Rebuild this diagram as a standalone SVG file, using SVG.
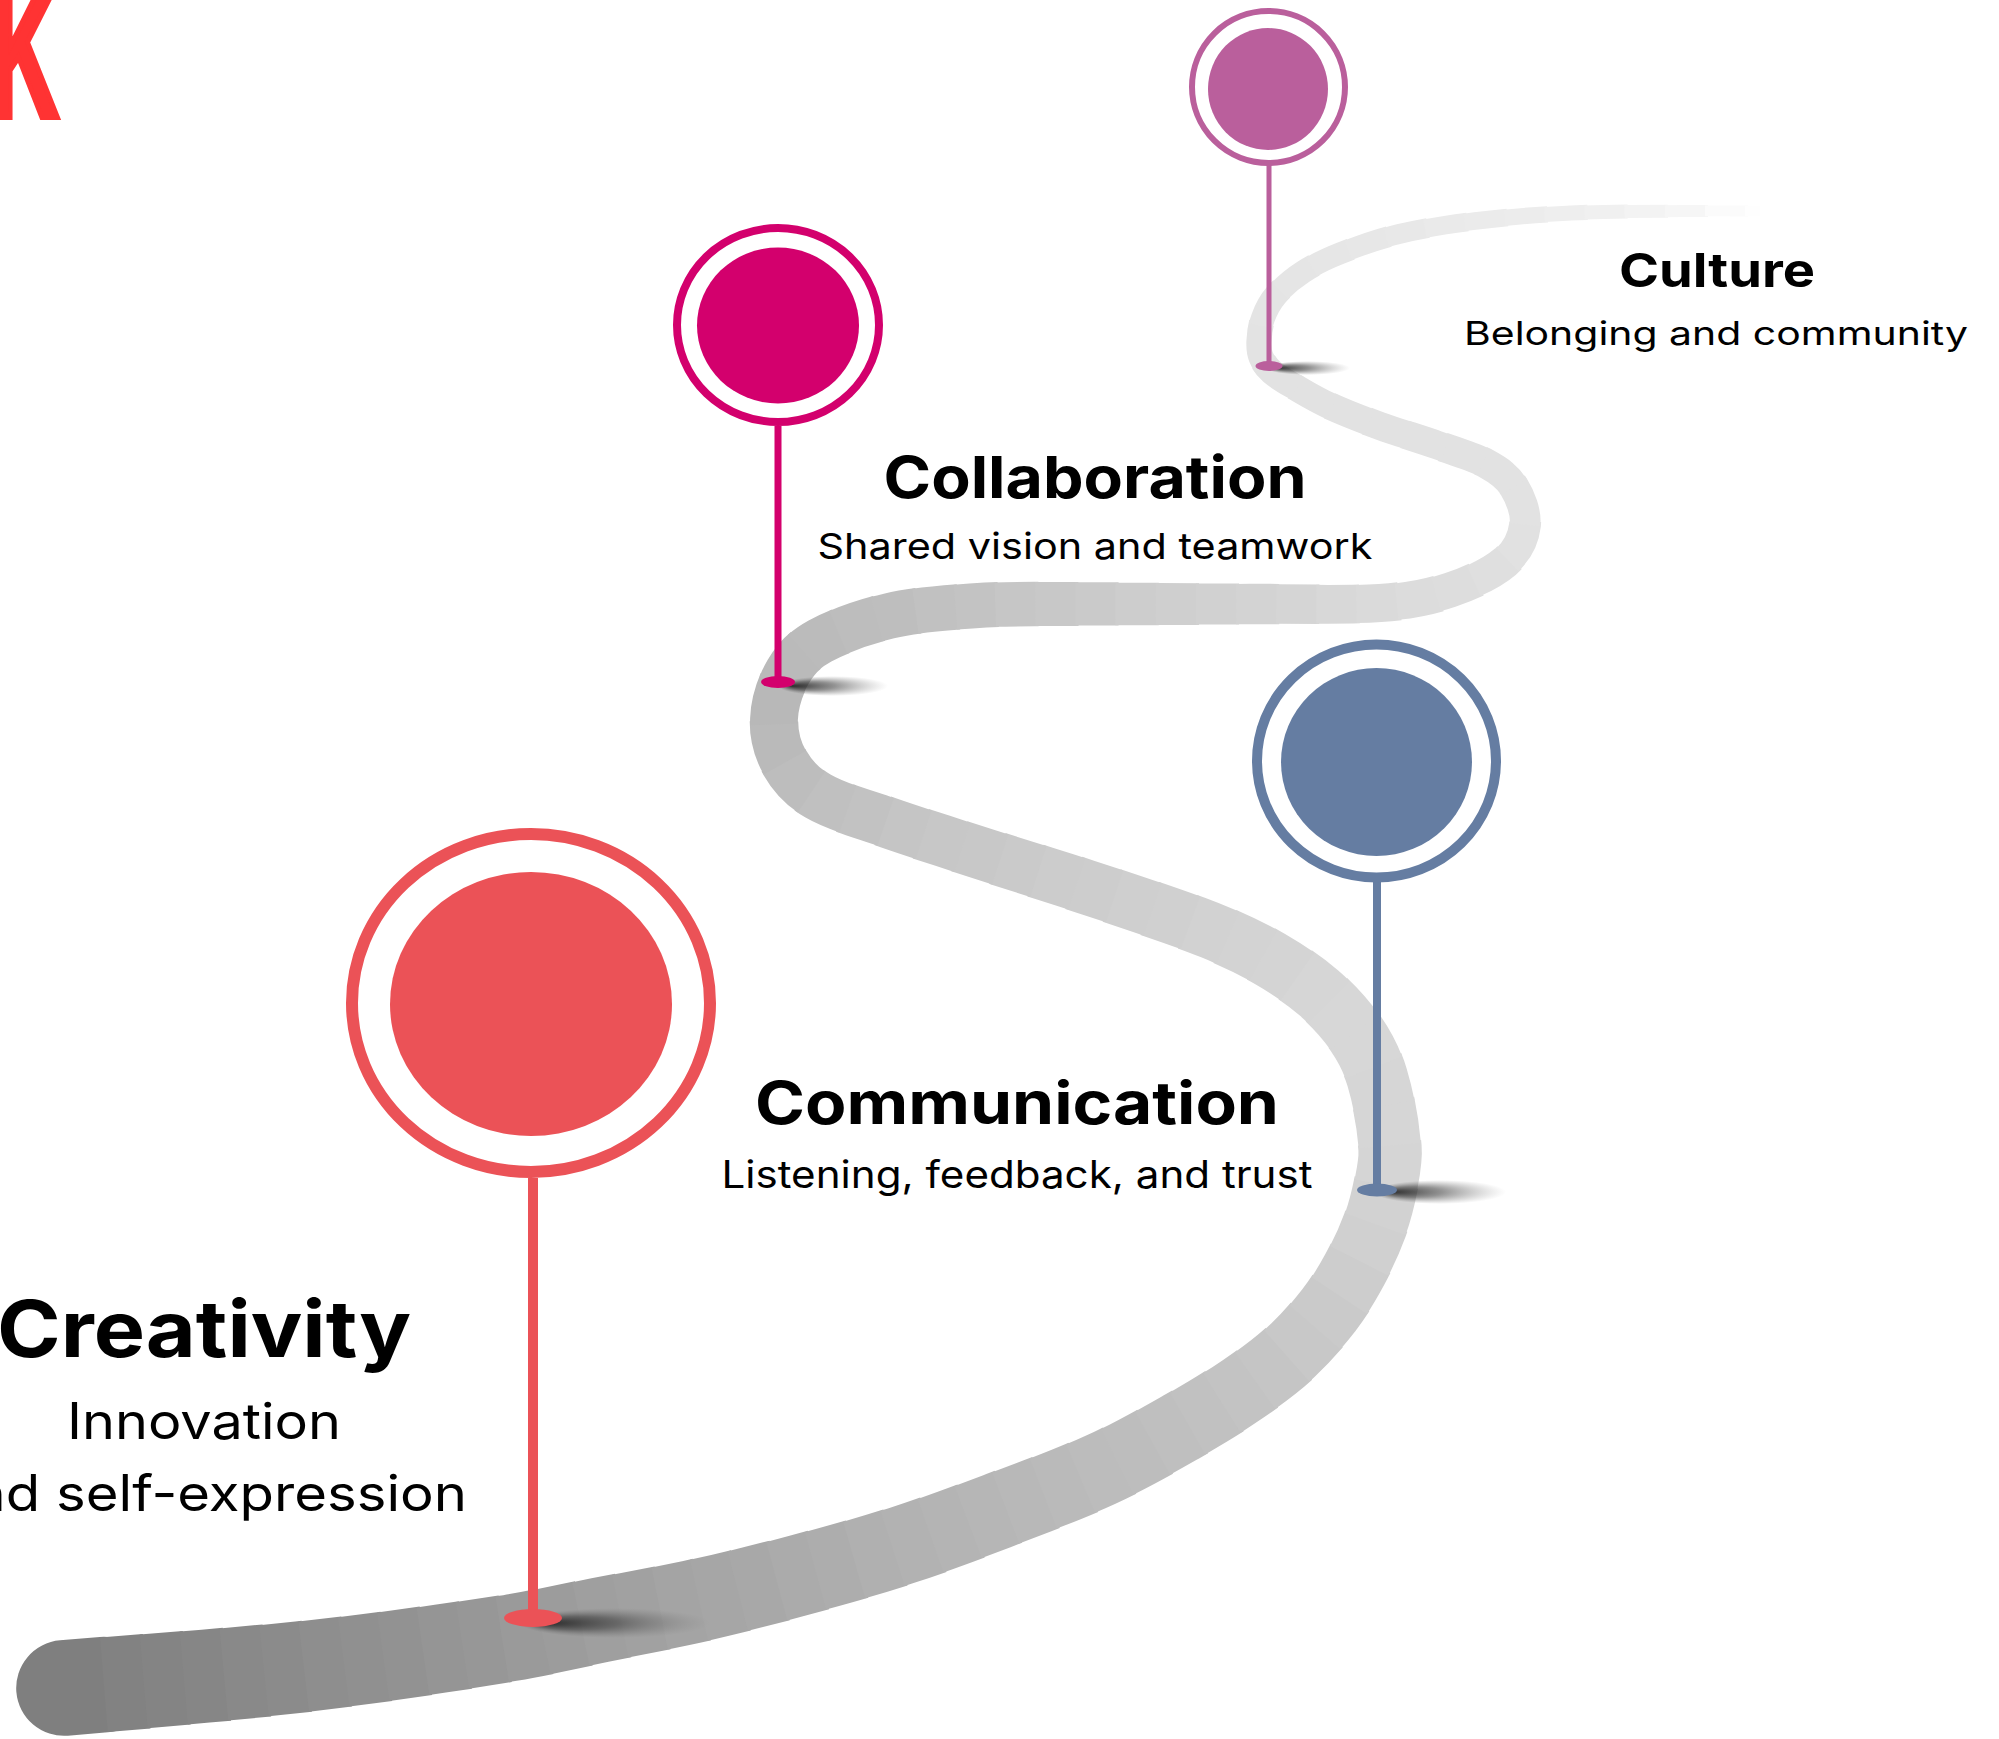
<svg xmlns="http://www.w3.org/2000/svg" xmlns:xlink="http://www.w3.org/1999/xlink" width="1999" height="1739" viewBox="0 0 1999 1739">
<style>
.seg{fill:none;stroke-linecap:butt;stroke-dasharray:43 99999;}
.seg0{fill:none;stroke-linecap:round;stroke-dasharray:40 99999;}
.h{font-family:Inter,"Liberation Sans",sans-serif;font-weight:700;fill:#000;text-anchor:middle;}
.s{font-family:Inter,"Liberation Sans",sans-serif;font-weight:400;fill:#000;text-anchor:middle;}
.ring{fill:none;}
</style>
<defs>
<path id="r" pathLength="4055" d="M64,1688 C103.3,1684.5 225.7,1675.3 300,1667 C374.3,1658.7 440.2,1649 510,1638 C540.3,1633.2 568.3,1626.3 600,1620 C631.7,1613.7 666.7,1607.5 700,1600 C733.3,1592.5 766.7,1584 800,1575 C833.3,1566 866.7,1556.8 900,1546 C933.3,1535.2 966.7,1522.7 1000,1510 C1033.3,1497.3 1069.5,1484 1100,1470 C1130.5,1456 1159.2,1439.5 1183,1426 C1206.8,1412.5 1225,1401.3 1243,1389 C1261,1376.7 1276.7,1365.2 1291,1352 C1305.3,1338.8 1318.3,1323.8 1329,1310 C1339.7,1296.2 1347.3,1283.2 1355,1269 C1362.7,1254.8 1369.8,1239.2 1375,1225 C1380.2,1210.8 1383.3,1197.7 1386,1184 C1388.3,1172.2 1391,1160 1390,1148 C1388,1124.1 1383.9,1100 1377,1077 C1372.4,1061.7 1365.1,1047.2 1356,1034 C1346.3,1020 1333.3,1005.5 1319,993 C1304.7,980.5 1287.8,969.3 1270,959 C1252.2,948.7 1235.2,940.5 1212,931 C1188.8,921.5 1155.5,910.5 1131,902 C1106.5,893.5 1087,887.2 1065,880 C1043,872.8 1028.3,868.5 999,859 C969.7,849.5 919.2,833.5 889,823 C858.8,812.5 835.3,806 818,796 C800.7,786 792.3,775.8 785,763 C777.7,750.2 773.5,734.2 774,719 C774.5,703.8 780.3,685 788,672 C795.7,659 803.2,650.3 820,641 C836.8,631.7 863.8,621.8 889,616 C914.2,610.2 943.5,608 971,606 C998.5,604 1007.5,604.3 1054,604 C1100.5,603.7 1195.7,604.2 1250,604 C1304.3,603.8 1346.7,605.3 1380,603 C1413.3,600.7 1429.2,596.8 1450,590 C1470.8,583.2 1492.5,572.8 1505,562 C1517.5,551.2 1523.5,537.5 1525,525 C1526.5,512.5 1520.3,497.2 1514,487 C1507.7,476.8 1499.8,471 1487,464 C1474.2,457 1454.8,451.3 1437,445 C1419.2,438.7 1397.8,432.5 1380,426 C1362.2,419.5 1344.2,412.5 1330,406 C1315.8,399.5 1304.7,392.7 1295,387 C1285.3,381.3 1277.7,377 1272,372 C1266.3,367 1263.2,362.2 1261,357 C1258.8,351.8 1258.7,347.5 1259,341 C1259.3,334.5 1260.2,325.7 1263,318 C1265.8,310.3 1269.3,302.7 1276,295 C1282.7,287.3 1292.2,279 1303,272 C1313.8,265 1325,259.3 1341,253 C1357,246.7 1376.7,239.3 1399,234 C1421.3,228.7 1446.3,224.5 1475,221 C1503.7,217.5 1535.8,214.7 1571,213 C1606.2,211.3 1654.5,211.3 1686,211 C1717.5,210.7 1747.7,211 1760,211"/>
<radialGradient id="shadow" cx="0.5" cy="0.5" r="0.5" fx="0.12" fy="0.5">
<stop offset="0" stop-color="#1e1e1e" stop-opacity="0.9"/>
<stop offset="0.45" stop-color="#3a3a3a" stop-opacity="0.55"/>
<stop offset="1" stop-color="#777" stop-opacity="0"/>
</radialGradient>
</defs>
<rect width="1999" height="1739" fill="#ffffff"/>

<g id="title-fragment">
<text transform="scale(0.5,1)" x="-17.8" y="116" font-family="'Liberation Sans',Arial,sans-serif" font-weight="700" font-size="185" fill="#ff3333" stroke="#ff3333" stroke-width="8" stroke-linejoin="miter">K</text>
</g>

<g id="connectors">
<use href="#r" class="seg0" stroke="#7f7f7f" stroke-width="95.6" stroke-dashoffset="0"/>
<use href="#r" class="seg" stroke="#828282" stroke-width="94.8" stroke-dashoffset="-40"/>
<use href="#r" class="seg" stroke="#848484" stroke-width="94" stroke-dashoffset="-80"/>
<use href="#r" class="seg" stroke="#868686" stroke-width="93.2" stroke-dashoffset="-120"/>
<use href="#r" class="seg" stroke="#898989" stroke-width="92.4" stroke-dashoffset="-160"/>
<use href="#r" class="seg" stroke="#8b8b8b" stroke-width="91.6" stroke-dashoffset="-200"/>
<use href="#r" class="seg" stroke="#8e8e8e" stroke-width="90.8" stroke-dashoffset="-240"/>
<use href="#r" class="seg" stroke="#909090" stroke-width="90" stroke-dashoffset="-280"/>
<use href="#r" class="seg" stroke="#929292" stroke-width="89.2" stroke-dashoffset="-320"/>
<use href="#r" class="seg" stroke="#959595" stroke-width="88.4" stroke-dashoffset="-360"/>
<use href="#r" class="seg" stroke="#979797" stroke-width="87.6" stroke-dashoffset="-400"/>
<use href="#r" class="seg" stroke="#9a9a9a" stroke-width="86.8" stroke-dashoffset="-440"/>
<use href="#r" class="seg" stroke="#9c9c9c" stroke-width="86" stroke-dashoffset="-480"/>
<use href="#r" class="seg" stroke="#9f9f9f" stroke-width="85.2" stroke-dashoffset="-520"/>
<use href="#r" class="seg" stroke="#a1a1a1" stroke-width="84.4" stroke-dashoffset="-560"/>
<use href="#r" class="seg" stroke="#a4a4a4" stroke-width="83.6" stroke-dashoffset="-600"/>
<use href="#r" class="seg" stroke="#a6a6a6" stroke-width="82.8" stroke-dashoffset="-640"/>
<use href="#r" class="seg" stroke="#a8a8a8" stroke-width="82.1" stroke-dashoffset="-680"/>
<use href="#r" class="seg" stroke="#ababab" stroke-width="81.3" stroke-dashoffset="-720"/>
<use href="#r" class="seg" stroke="#adadad" stroke-width="80.5" stroke-dashoffset="-760"/>
<use href="#r" class="seg" stroke="#b0b0b0" stroke-width="79.7" stroke-dashoffset="-800"/>
<use href="#r" class="seg" stroke="#b2b2b2" stroke-width="78.9" stroke-dashoffset="-840"/>
<use href="#r" class="seg" stroke="#b4b4b4" stroke-width="77.9" stroke-dashoffset="-880"/>
<use href="#r" class="seg" stroke="#b6b6b6" stroke-width="77" stroke-dashoffset="-920"/>
<use href="#r" class="seg" stroke="#b8b8b8" stroke-width="76.1" stroke-dashoffset="-960"/>
<use href="#r" class="seg" stroke="#bababa" stroke-width="75.1" stroke-dashoffset="-1000"/>
<use href="#r" class="seg" stroke="#bcbcbc" stroke-width="74.2" stroke-dashoffset="-1040"/>
<use href="#r" class="seg" stroke="#bdbdbd" stroke-width="73.3" stroke-dashoffset="-1080"/>
<use href="#r" class="seg" stroke="#bfbfbf" stroke-width="72.3" stroke-dashoffset="-1120"/>
<use href="#r" class="seg" stroke="#c1c1c1" stroke-width="71.4" stroke-dashoffset="-1160"/>
<use href="#r" class="seg" stroke="#c3c3c3" stroke-width="70.5" stroke-dashoffset="-1200"/>
<use href="#r" class="seg" stroke="#c5c5c5" stroke-width="69.5" stroke-dashoffset="-1240"/>
<use href="#r" class="seg" stroke="#c8c8c8" stroke-width="68.5" stroke-dashoffset="-1280"/>
<use href="#r" class="seg" stroke="#cacaca" stroke-width="67.5" stroke-dashoffset="-1320"/>
<use href="#r" class="seg" stroke="#cdcdcd" stroke-width="66.5" stroke-dashoffset="-1360"/>
<use href="#r" class="seg" stroke="#d0d0d0" stroke-width="65.5" stroke-dashoffset="-1400"/>
<use href="#r" class="seg" stroke="#d2d2d2" stroke-width="64.4" stroke-dashoffset="-1440"/>
<use href="#r" class="seg" stroke="#d5d5d5" stroke-width="63.4" stroke-dashoffset="-1480"/>
<use href="#r" class="seg" stroke="#d6d6d6" stroke-width="62.5" stroke-dashoffset="-1520"/>
<use href="#r" class="seg" stroke="#d6d6d6" stroke-width="61.7" stroke-dashoffset="-1560"/>
<use href="#r" class="seg" stroke="#d7d7d7" stroke-width="60.9" stroke-dashoffset="-1600"/>
<use href="#r" class="seg" stroke="#d7d7d7" stroke-width="60.1" stroke-dashoffset="-1640"/>
<use href="#r" class="seg" stroke="#d6d6d6" stroke-width="59.3" stroke-dashoffset="-1680"/>
<use href="#r" class="seg" stroke="#d4d4d4" stroke-width="58.5" stroke-dashoffset="-1720"/>
<use href="#r" class="seg" stroke="#d3d3d3" stroke-width="57.7" stroke-dashoffset="-1760"/>
<use href="#r" class="seg" stroke="#d2d2d2" stroke-width="56.9" stroke-dashoffset="-1800"/>
<use href="#r" class="seg" stroke="#d0d0d0" stroke-width="56.2" stroke-dashoffset="-1840"/>
<use href="#r" class="seg" stroke="#cfcfcf" stroke-width="55.5" stroke-dashoffset="-1880"/>
<use href="#r" class="seg" stroke="#cdcdcd" stroke-width="54.8" stroke-dashoffset="-1920"/>
<use href="#r" class="seg" stroke="#cccccc" stroke-width="54.1" stroke-dashoffset="-1960"/>
<use href="#r" class="seg" stroke="#cacaca" stroke-width="53.4" stroke-dashoffset="-2000"/>
<use href="#r" class="seg" stroke="#c8c8c8" stroke-width="52.7" stroke-dashoffset="-2040"/>
<use href="#r" class="seg" stroke="#c7c7c7" stroke-width="52" stroke-dashoffset="-2080"/>
<use href="#r" class="seg" stroke="#c5c5c5" stroke-width="51.3" stroke-dashoffset="-2120"/>
<use href="#r" class="seg" stroke="#c2c2c2" stroke-width="50.6" stroke-dashoffset="-2160"/>
<use href="#r" class="seg" stroke="#c0c0c0" stroke-width="49.9" stroke-dashoffset="-2200"/>
<use href="#r" class="seg" stroke="#bdbdbd" stroke-width="49.2" stroke-dashoffset="-2240"/>
<use href="#r" class="seg" stroke="#bababa" stroke-width="48.5" stroke-dashoffset="-2280"/>
<use href="#r" class="seg" stroke="#b8b8b8" stroke-width="47.8" stroke-dashoffset="-2320"/>
<use href="#r" class="seg" stroke="#bababa" stroke-width="47.4" stroke-dashoffset="-2360"/>
<use href="#r" class="seg" stroke="#bbbbbb" stroke-width="46.9" stroke-dashoffset="-2400"/>
<use href="#r" class="seg" stroke="#bdbdbd" stroke-width="46.4" stroke-dashoffset="-2440"/>
<use href="#r" class="seg" stroke="#bebebe" stroke-width="45.9" stroke-dashoffset="-2480"/>
<use href="#r" class="seg" stroke="#c1c1c1" stroke-width="45.5" stroke-dashoffset="-2520"/>
<use href="#r" class="seg" stroke="#c3c3c3" stroke-width="45" stroke-dashoffset="-2560"/>
<use href="#r" class="seg" stroke="#c6c6c6" stroke-width="44.5" stroke-dashoffset="-2600"/>
<use href="#r" class="seg" stroke="#c8c8c8" stroke-width="44" stroke-dashoffset="-2640"/>
<use href="#r" class="seg" stroke="#cacaca" stroke-width="43.2" stroke-dashoffset="-2680"/>
<use href="#r" class="seg" stroke="#cdcdcd" stroke-width="42.5" stroke-dashoffset="-2720"/>
<use href="#r" class="seg" stroke="#cfcfcf" stroke-width="41.8" stroke-dashoffset="-2760"/>
<use href="#r" class="seg" stroke="#d1d1d1" stroke-width="41" stroke-dashoffset="-2800"/>
<use href="#r" class="seg" stroke="#d3d3d3" stroke-width="40.3" stroke-dashoffset="-2840"/>
<use href="#r" class="seg" stroke="#d5d5d5" stroke-width="39.6" stroke-dashoffset="-2880"/>
<use href="#r" class="seg" stroke="#d8d8d8" stroke-width="38.8" stroke-dashoffset="-2920"/>
<use href="#r" class="seg" stroke="#dadada" stroke-width="38.1" stroke-dashoffset="-2960"/>
<use href="#r" class="seg" stroke="#dcdcdc" stroke-width="36.6" stroke-dashoffset="-3000"/>
<use href="#r" class="seg" stroke="#dddddd" stroke-width="35" stroke-dashoffset="-3040"/>
<use href="#r" class="seg" stroke="#dfdfdf" stroke-width="33.4" stroke-dashoffset="-3080"/>
<use href="#r" class="seg" stroke="#e1e1e1" stroke-width="31.8" stroke-dashoffset="-3120"/>
<use href="#r" class="seg" stroke="#e2e2e2" stroke-width="30.7" stroke-dashoffset="-3160"/>
<use href="#r" class="seg" stroke="#e2e2e2" stroke-width="30" stroke-dashoffset="-3200"/>
<use href="#r" class="seg" stroke="#e2e2e2" stroke-width="29.4" stroke-dashoffset="-3240"/>
<use href="#r" class="seg" stroke="#e2e2e2" stroke-width="28.7" stroke-dashoffset="-3280"/>
<use href="#r" class="seg" stroke="#e2e2e2" stroke-width="28.1" stroke-dashoffset="-3320"/>
<use href="#r" class="seg" stroke="#e2e2e2" stroke-width="27.5" stroke-dashoffset="-3360"/>
<use href="#r" class="seg" stroke="#e2e2e2" stroke-width="26.8" stroke-dashoffset="-3400"/>
<use href="#r" class="seg" stroke="#e2e2e2" stroke-width="26.2" stroke-dashoffset="-3440"/>
<use href="#r" class="seg" stroke="#e3e3e3" stroke-width="25.2" stroke-dashoffset="-3480"/>
<use href="#r" class="seg" stroke="#e4e4e4" stroke-width="24.1" stroke-dashoffset="-3520"/>
<use href="#r" class="seg" stroke="#e5e5e5" stroke-width="23" stroke-dashoffset="-3560"/>
<use href="#r" class="seg" stroke="#e6e6e6" stroke-width="21.9" stroke-dashoffset="-3600"/>
<use href="#r" class="seg" stroke="#e7e7e7" stroke-width="20.9" stroke-dashoffset="-3640"/>
<use href="#r" class="seg" stroke="#e8e8e8" stroke-width="19.8" stroke-dashoffset="-3680"/>
<use href="#r" class="seg" stroke="#eaeaea" stroke-width="18.6" stroke-dashoffset="-3720"/>
<use href="#r" class="seg" stroke="#ebebeb" stroke-width="17.5" stroke-dashoffset="-3760"/>
<use href="#r" class="seg" stroke="#ececec" stroke-width="16.3" stroke-dashoffset="-3800"/>
<use href="#r" class="seg" stroke="#eeeeee" stroke-width="15.1" stroke-dashoffset="-3840"/>
<use href="#r" class="seg" stroke="#f0f0f0" stroke-width="14.1" stroke-dashoffset="-3880"/>
<use href="#r" class="seg" stroke="#f3f3f3" stroke-width="13" stroke-dashoffset="-3920"/>
<use href="#r" class="seg" stroke="#f6f6f6" stroke-width="12" stroke-dashoffset="-3960"/>
<use href="#r" class="seg" stroke="#fbfbfb" stroke-width="10.9" stroke-dashoffset="-4000"/>
<use href="#r" class="seg" stroke="#fefefe" stroke-width="10.2" stroke-dasharray="30 99999" stroke-dashoffset="-4040"/>
</g>

<g id="node-creativity">
<ellipse cx="615" cy="1623" rx="95" ry="15" fill="url(#shadow)"/>
<rect x="528" y="1178" width="10" height="440" fill="#eb5257"/>
<ellipse cx="533" cy="1618" rx="29" ry="9" fill="#eb5257"/>
<ellipse class="ring" cx="531" cy="1003" rx="179" ry="169" stroke="#eb5257" stroke-width="12"/>
<ellipse cx="531" cy="1004" rx="141" ry="132" fill="#eb5257"/>
<text class="h" x="204" y="1357" font-size="78" textLength="414" lengthAdjust="spacingAndGlyphs">Creativity</text>
<text class="s" x="204" y="1439" font-size="50" textLength="274" lengthAdjust="spacingAndGlyphs">Innovation</text>
<text class="s" x="204" y="1511" font-size="50" textLength="526" lengthAdjust="spacingAndGlyphs">and self-expression</text>
</g>

<g id="node-communication">
<ellipse cx="1440" cy="1192" rx="66" ry="12" fill="url(#shadow)"/>
<rect x="1373" y="882" width="8" height="308" fill="#657da2"/>
<ellipse cx="1377" cy="1190" rx="20" ry="6.5" fill="#657da2"/>
<ellipse class="ring" cx="1376.5" cy="761" rx="119.5" ry="116.5" stroke="#657da2" stroke-width="10"/>
<ellipse cx="1376.5" cy="762" rx="95.5" ry="94" fill="#657da2"/>
<text class="h" x="1017" y="1124" font-size="59" textLength="524" lengthAdjust="spacingAndGlyphs">Communication</text>
<text class="s" x="1017" y="1188" font-size="38" textLength="591" lengthAdjust="spacingAndGlyphs">Listening, feedback, and trust</text>
</g>

<g id="node-collaboration">
<ellipse cx="833" cy="686" rx="55" ry="10" fill="url(#shadow)"/>
<rect x="774.5" y="426" width="7" height="256" fill="#d3006d"/>
<ellipse cx="778" cy="682" rx="17" ry="6" fill="#d3006d"/>
<ellipse class="ring" cx="778" cy="325" rx="101" ry="97" stroke="#d3006d" stroke-width="8"/>
<ellipse cx="778" cy="325.5" rx="81" ry="78" fill="#d3006d"/>
<text class="h" x="1095" y="498" font-size="58" textLength="423" lengthAdjust="spacingAndGlyphs">Collaboration</text>
<text class="s" x="1095" y="559" font-size="36" textLength="555" lengthAdjust="spacingAndGlyphs">Shared vision and teamwork</text>
</g>

<g id="node-culture">
<ellipse cx="1308" cy="368" rx="42" ry="7" fill="url(#shadow)"/>
<rect x="1266.5" y="165" width="5" height="201" fill="#ba5f9c"/>
<ellipse cx="1269" cy="366" rx="13.5" ry="5" fill="#ba5f9c"/>
<ellipse class="ring" cx="1268.5" cy="87" rx="76.5" ry="76" stroke="#ba5f9c" stroke-width="6"/>
<ellipse cx="1268" cy="89" rx="60" ry="61" fill="#ba5f9c"/>
<text class="h" x="1717" y="287" font-size="47" textLength="196" lengthAdjust="spacingAndGlyphs">Culture</text>
<text class="s" x="1716" y="345" font-size="33" textLength="504" lengthAdjust="spacingAndGlyphs">Belonging and community</text>
</g>
</svg>
